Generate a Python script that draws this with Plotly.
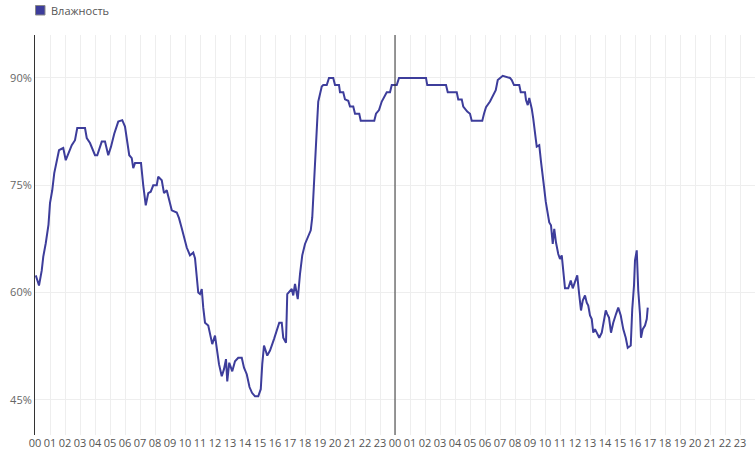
import pandas as pd
import plotly.graph_objects as go

# minutes from start of day 1
minutes = [
    3, 16, 27, 33, 43, 47, 54, 60, 69, 77,
    87, 96, 107, 113, 123, 133, 147, 160, 169, 200,
    207, 220, 240, 249, 260, 267, 280, 293, 304, 317,
    333, 349, 360, 369, 377, 387, 393, 400, 424, 433,
    443, 453, 463, 473, 487, 493, 507, 516, 527, 540,
    547, 567, 576, 587, 597, 607, 620, 633, 640, 647,
    653, 660, 667, 673, 680, 693, 700, 709, 720, 727,
    736, 747, 756, 764, 769, 777, 789, 800, 813, 827,
    836, 847, 858, 868, 880, 893, 903, 909, 916, 929,
    940, 956, 967, 977, 987, 993, 1004, 1009, 1027, 1033,
    1040, 1051, 1060, 1069, 1080, 1093, 1103, 1109, 1113, 1116,
    1120, 1124, 1129, 1133, 1140, 1147, 1153, 1167, 1176, 1193,
    1200, 1216, 1220, 1233, 1240, 1253, 1260, 1273, 1280, 1297,
    1303, 1357, 1364, 1376, 1387, 1400, 1407, 1420, 1427, 1447,
    1456, 1564, 1569, 1644, 1651, 1687, 1693, 1707, 1713, 1729,
    1740, 1747, 1789, 1796, 1804, 1820, 1833, 1843, 1851, 1860,
    1871, 1900, 1907, 1916, 1937, 1943, 1960, 1964, 1971, 1977,
    1987, 1993, 1997, 2003, 2007, 2017, 2024, 2031, 2036, 2043,
    2051, 2057, 2064, 2071, 2077, 2084, 2093, 2100, 2107, 2113,
    2120, 2133, 2143, 2151, 2160, 2169, 2176, 2180, 2184, 2191,
    2200, 2207, 2213, 2220, 2227, 2233, 2240, 2247, 2257, 2267,
    2273, 2283, 2289, 2296, 2304, 2313, 2324, 2333, 2343, 2353,
    2363, 2371, 2383, 2389, 2396, 2400, 2407, 2413, 2420, 2424,
    2431, 2440, 2447, 2451,
]
# relative humidity, %
humidity = [
    62.4, 61.0, 63.1, 65.0, 66.9, 68.2, 69.5, 72.5, 74.3, 76.7,
    78.5, 79.9, 80.1, 80.2, 78.5, 79.5, 80.6, 81.3, 83.0, 83.0,
    81.6, 80.9, 79.2, 79.2, 80.6, 81.1, 81.1, 79.2, 80.4, 82.2,
    83.9, 84.1, 83.2, 81.3, 79.2, 78.8, 77.4, 78.1, 78.1, 75.0,
    72.2, 73.9, 74.1, 75.0, 75.0, 76.2, 75.7, 73.9, 74.3, 72.5,
    71.5, 71.2, 70.4, 69.0, 67.7, 66.3, 65.2, 65.6, 64.8, 62.6,
    60.0, 59.8, 60.5, 57.9, 55.8, 55.4, 54.4, 52.8, 54.0, 52.3,
    50.0, 48.3, 49.3, 50.7, 47.6, 50.2, 49.0, 50.4, 50.9, 50.9,
    49.5, 48.6, 46.8, 46.0, 45.5, 45.5, 46.5, 50.0, 52.6, 51.2,
    51.9, 53.5, 54.9, 55.8, 55.8, 53.7, 53.0, 59.8, 60.5, 59.6,
    61.2, 59.1, 62.6, 65.2, 66.8, 68.0, 68.7, 70.5, 73.4, 76.6,
    79.4, 82.0, 84.1, 86.7, 87.9, 88.8, 89.0, 89.0, 90.0, 90.0,
    89.0, 89.0, 88.0, 88.0, 87.0, 86.8, 86.0, 86.0, 85.0, 85.0,
    84.0, 84.0, 85.0, 85.5, 86.7, 87.6, 88.0, 88.0, 89.0, 89.0,
    90.0, 90.0, 89.0, 89.0, 88.0, 88.0, 87.0, 87.0, 86.0, 85.3,
    85.0, 84.0, 84.0, 85.0, 85.9, 86.7, 87.6, 88.3, 89.7, 90.0,
    90.3, 90.0, 89.7, 89.0, 89.0, 88.0, 88.0, 86.9, 86.2, 87.2,
    85.7, 84.3, 82.7, 81.5, 80.4, 80.6, 78.3, 76.6, 74.8, 72.7,
    71.2, 69.8, 69.4, 66.8, 68.9, 67.0, 65.4, 64.7, 65.2, 62.6,
    60.6, 60.6, 61.7, 60.6, 61.4, 62.4, 60.0, 58.9, 57.5, 58.9,
    59.6, 58.6, 58.2, 56.8, 56.3, 54.4, 54.9, 54.4, 53.7, 54.4,
    55.6, 57.5, 57.0, 56.5, 54.4, 55.8, 57.0, 57.9, 56.8, 54.9,
    53.7, 52.3, 52.6, 57.7, 61.0, 64.5, 65.9, 60.3, 57.0, 53.7,
    54.9, 55.4, 56.3, 57.9,
]

y_ticks = [45, 60, 75, 90]
y_tick_labels = ["45%", "60%", "75%", "90%"]
hour_labels = [f"{h:02d}" for h in range(24)] * 2
series_name = "Влажность"

base = pd.Timestamp("2024-01-01 00:00")
times = [base + pd.Timedelta(minutes=m) for m in minutes]
tick_times = [base + pd.Timedelta(hours=h) for h in range(48)]
day2 = base + pd.Timedelta(hours=24)

line_color = "#3d3d9b"

fig = go.Figure()
fig.add_trace(go.Scatter(x=times, y=humidity, mode="lines", name=series_name,
                         line=dict(color=line_color, width=2),
                         showlegend=False, hoverinfo="skip"))

# day boundary line
fig.add_shape(type="line", xref="x", yref="paper", x0=day2, x1=day2, y0=0, y1=1,
              line=dict(color="#333333", width=1))

# legend swatch + label
fig.add_shape(type="rect", xref="paper", yref="paper",
              x0=0.5 / 720, x1=10 / 720, y0=1 + 20 / 400, y1=1 + 29.5 / 400,
              fillcolor=line_color, line=dict(color="#888888", width=1))
fig.add_annotation(text=series_name, xref="paper", yref="paper",
                   x=14 / 720, y=1 + 24.5 / 400, xanchor="left", yanchor="middle",
                   showarrow=False, font=dict(size=11, color="#555555"))

fig.update_layout(
    width=755, height=451,
    margin=dict(l=35, r=0, t=35, b=16, autoexpand=False),
    paper_bgcolor="white", plot_bgcolor="white",
    font=dict(family="Open Sans", size=11, color="#555555"),
    showlegend=False,
    hovermode=False,
    xaxis=dict(type="date", range=[base, base + pd.Timedelta(hours=48)],
               tickvals=tick_times, ticktext=hour_labels, tickangle=0,
               showgrid=True, gridcolor="#eeeeee", gridwidth=1, automargin=False,
               zeroline=False, showline=False, ticks="",
               tickfont=dict(size=11, color="#555555")),
    yaxis=dict(range=[40.1, 96], tickvals=y_ticks, ticktext=y_tick_labels,
               showgrid=True, gridcolor="#eeeeee", gridwidth=1, automargin=False,
               zeroline=False, showline=True, linecolor="#333333", linewidth=1,
               ticks="", tickfont=dict(size=11, color="#666666")),
)

fig.write_html("out.html",
               config={"displayModeBar": False},
               post_script="document.body.style.margin='0';document.body.style.overflow='hidden';")
